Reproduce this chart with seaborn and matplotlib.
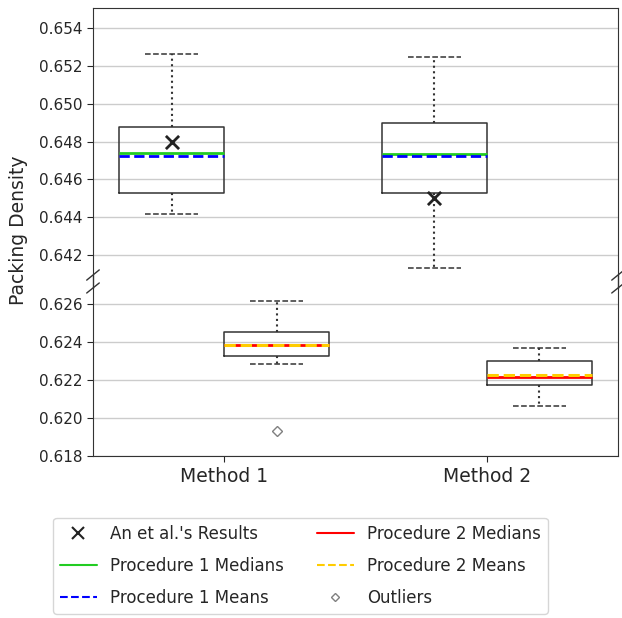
import seaborn as sns
import pandas as pd
import matplotlib.pyplot as plt
from matplotlib.lines import Line2D
import numpy as np

methods = ['Method 1', 'Method 2']

# box statistics (whisker lo, q1, median, mean, q3, whisker hi)
p1_whislo = [0.64418, 0.64132]
p1_q1 = [0.64529, 0.64529]
p1_med = [0.64737, 0.64733]
p1_mean = [0.64726, 0.64721]
p1_q3 = [0.64878, 0.64897]
p1_whishi = [0.65265, 0.65245]

p2_whislo = [0.62286, 0.62065]
p2_q1 = [0.62328, 0.62174]
p2_med = [0.62383, 0.62216]
p2_mean = [0.62383, 0.62228]
p2_q3 = [0.62454, 0.62300]
p2_whishi = [0.62616, 0.62367]

p2_outliers = [[0.61932], []]

an_results = [0.648, 0.645]

sns.set_style('ticks')
plt.rcParams['font.family'] = ['DejaVu Sans']
plt.rcParams['font.size'] = 11

fig = plt.figure(figsize=(6.22, 6.18), dpi=100)
ax_top = fig.add_axes([0.1495, 0.555, 0.8441, 0.432])
ax_bot = fig.add_axes([0.1495, 0.262, 0.8441, 0.272])


def make_stats(lo, q1, med, mean, q3, hi, fl=None):
    out = []
    for i in range(len(lo)):
        out.append(dict(whislo=lo[i], q1=q1[i], med=med[i], mean=mean[i],
                        q3=q3[i], whishi=hi[i],
                        fliers=(fl[i] if fl else [])))
    return out


common = dict(widths=0.4, showmeans=True, meanline=True, patch_artist=False,
              boxprops=dict(color='#333333', linewidth=1.1),
              whiskerprops=dict(color='#333333', linestyle=':', linewidth=1.5),
              capprops=dict(color='#333333', linestyle='--', linewidth=1.1),
              flierprops=dict(marker='D', markersize=5, markerfacecolor='none',
                              markeredgecolor='gray', linestyle='none'))

p1_stats = make_stats(p1_whislo, p1_q1, p1_med, p1_mean, p1_q3, p1_whishi)
p2_stats = make_stats(p2_whislo, p2_q1, p2_med, p2_mean, p2_q3, p2_whishi,
                      p2_outliers)
pos1 = np.arange(1, len(methods) + 1) - 0.2
pos2 = np.arange(1, len(methods) + 1) + 0.2

for ax in (ax_top, ax_bot):
    ax.bxp(p1_stats, positions=pos1,
           medianprops=dict(color='#22cc22', linewidth=2),
           meanprops=dict(color='blue', linestyle='--', linewidth=2),
           **common)
    ax.bxp(p2_stats, positions=pos2,
           medianprops=dict(color='red', linewidth=2),
           meanprops=dict(color='#ffcc00', linestyle='--', linewidth=2.2),
           **common)
    ax.grid(axis='y', color='#cccccc', linewidth=1)
    ax.set_axisbelow(True)
    ax.set_xlim(0.5, 2.5)
    for s in ax.spines.values():
        s.set_color('#333333')

# An et al. results
an_df = pd.DataFrame({'x': pos1, 'y': an_results})
sns.scatterplot(data=an_df, x='x', y='y', marker='x', s=90, color='#222222',
                linewidth=2, ax=ax_top, zorder=5, legend=False)
ax_top.set_xlabel('')
ax_top.set_ylabel('')

ax_top.set_ylim(0.64094, 0.65506)
ax_bot.set_ylim(0.618, 0.62684)
ax_top.set_yticks(np.arange(0.642, 0.6541, 0.002))
ax_bot.set_yticks(np.arange(0.618, 0.6261, 0.002))
for ax in (ax_top, ax_bot):
    ax.yaxis.set_major_formatter(plt.FormatStrFormatter('%.3f'))
    ax.tick_params(axis='y', labelsize=11, length=4)

ax_top.spines['bottom'].set_visible(False)
ax_bot.spines['top'].set_visible(False)
ax_top.tick_params(axis='x', bottom=False, labelbottom=False)
ax_bot.set_xticks([1, 2])
ax_bot.set_xticklabels(methods, fontsize=13.5)
ax_bot.tick_params(axis='x', length=4)

# break marks
d = 0.012
kw = dict(color='#333333', linewidth=1, clip_on=False)
ax_top.plot((-d, +d), (-d * 1.6, +d * 1.6), transform=ax_top.transAxes, **kw)
ax_top.plot((1 - d, 1 + d), (-d * 1.6, +d * 1.6), transform=ax_top.transAxes, **kw)
ax_bot.plot((-d, +d), (1 - d * 2.5, 1 + d * 2.5), transform=ax_bot.transAxes, **kw)
ax_bot.plot((1 - d, 1 + d), (1 - d * 2.5, 1 + d * 2.5), transform=ax_bot.transAxes, **kw)
for xf in (0.1495, 0.1495 + 0.8441):
    fig.add_artist(Line2D([xf, xf], [0.534, 0.555], color='#333333',
                          linewidth=1, transform=fig.transFigure))

fig.text(0.029, 0.628, 'Packing Density', rotation=90, va='center',
         ha='center', fontsize=13.5)

handles = [
    Line2D([], [], linestyle='none', marker='x', color='#222222',
           markersize=8, markeredgewidth=1.5),
    Line2D([], [], color='#22cc22', linewidth=1.5),
    Line2D([], [], color='blue', linestyle='--', linewidth=1.5),
    Line2D([], [], color='red', linewidth=1.5),
    Line2D([], [], color='#ffcc00', linestyle='--', linewidth=1.5),
    Line2D([], [], linestyle='none', marker='D', markersize=4,
           markerfacecolor='none', markeredgecolor='gray'),
]
labels = ["An et al.'s Results", 'Procedure 1 Medians', 'Procedure 1 Means',
          'Procedure 2 Medians', 'Procedure 2 Means', 'Outliers']
fig.legend(handles, labels, ncol=2, loc='upper center',
           bbox_to_anchor=(0.483, 0.162), fontsize=12, frameon=True,
           edgecolor='#cccccc', columnspacing=2.0, handlelength=2.2,
           labelspacing=0.85, borderaxespad=0)

fig.savefig('out.png', dpi=100)
